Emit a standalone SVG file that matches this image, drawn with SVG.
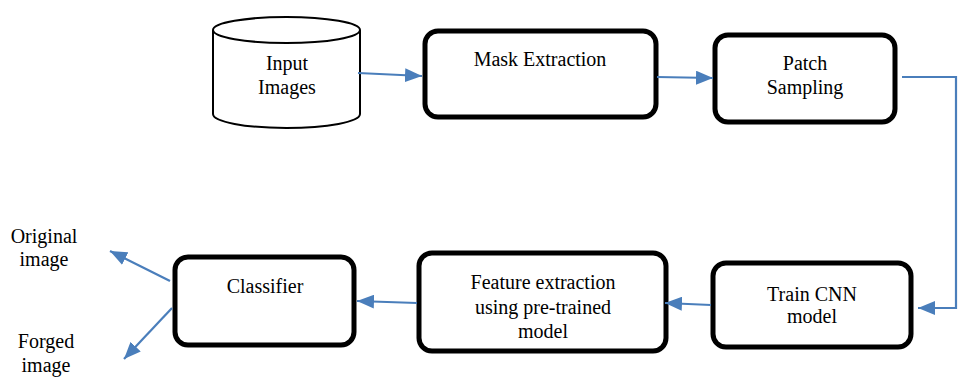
<svg xmlns="http://www.w3.org/2000/svg" width="959" height="380" viewBox="0 0 959 380">
<defs>
<style>
.box{fill:#fff;stroke:#000;stroke-width:5}
.cyl{fill:#fff;stroke:#000;stroke-width:2}
.c{fill:none;stroke:#4a7ebb;stroke-width:2.2}
</style>
<marker id="ah" markerUnits="userSpaceOnUse" markerWidth="18" markerHeight="14" refX="17" refY="7" orient="auto">
<path d="M0,0 L17,7 L0,14 Z" fill="#4a7ebb"/>
</marker>
</defs>
<g font-family="Liberation Serif, DejaVu Serif, serif" font-size="20" fill="#000" text-anchor="middle">
<g id="input-images">
<path class="cyl" d="M213,30 L213,114 A73.5,14 0 0 0 360,114 L360,30"/>
<ellipse class="cyl" cx="286.5" cy="30" rx="73.5" ry="13"/>
<text x="287" y="70">Input</text>
<text x="287" y="94">Images</text>
</g>
<g id="mask-extraction">
<rect class="box" x="425" y="31" width="231" height="86" rx="13"/>
<text x="540" y="66">Mask Extraction</text>
</g>
<g id="patch-sampling">
<rect class="box" x="715" y="35" width="180" height="87" rx="13"/>
<text x="805" y="70">Patch</text>
<text x="805" y="94">Sampling</text>
</g>
<g id="train-cnn">
<rect class="box" x="713" y="263" width="198" height="84" rx="13"/>
<text x="812" y="301">Train CNN</text>
<text x="812" y="323">model</text>
</g>
<g id="feature-extraction">
<rect class="box" x="419" y="253" width="247" height="98" rx="13"/>
<text x="543" y="289">Feature extraction</text>
<text x="543" y="314">using pre-trained</text>
<text x="543" y="338">model</text>
</g>
<g id="classifier">
<rect class="box" x="175" y="257" width="179" height="88" rx="13"/>
<text x="265" y="293">Classifier</text>
</g>
<g id="labels">
<text x="44" y="243">Original</text>
<text x="44" y="266">image</text>
<text x="46" y="348">Forged</text>
<text x="46" y="372">image</text>
</g>
</g>
<g id="connectors">
<line class="c" x1="358" y1="73" x2="422" y2="76" marker-end="url(#ah)"/>
<line class="c" x1="657" y1="77" x2="713" y2="78" marker-end="url(#ah)"/>
<polyline class="c" points="902,77 956,77 956,308 918,308" marker-end="url(#ah)"/>
<line class="c" x1="711" y1="305" x2="665" y2="303" marker-end="url(#ah)"/>
<line class="c" x1="417" y1="303" x2="357" y2="301" marker-end="url(#ah)"/>
<line class="c" x1="170" y1="281" x2="110" y2="251" marker-end="url(#ah)"/>
<line class="c" x1="172" y1="308" x2="124" y2="359" marker-end="url(#ah)"/>
</g>
</svg>
